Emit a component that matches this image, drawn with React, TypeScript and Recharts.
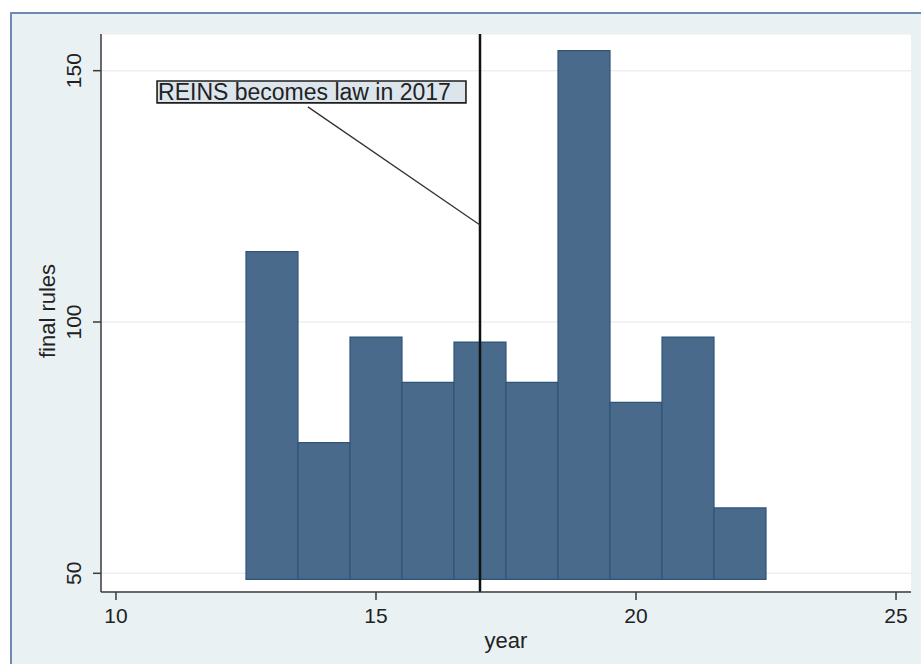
import React from 'react';
import {
  BarChart,
  Bar,
  XAxis,
  YAxis,
  CartesianGrid,
  ReferenceLine,
  ReferenceArea,
} from 'recharts';

// Final rules issued per year (two-digit years)
const years = [13, 14, 15, 16, 17, 18, 19, 20, 21, 22];
const finalRules = [114, 76, 97, 88, 96, 88, 154, 84, 97, 63];
const barBase = 48.8;

const xTicks = [10, 15, 20, 25];
const yTicks = [50, 100, 150];
const xDomain = [9.712, 25.288];
const yDomain = [46.28, 157.3];

// Annotation: the year REINS became law
const lawYear = 17;
const noteText = 'REINS becomes law in 2017';
const noteBox = { x1: 10.79, x2: 16.73, y1: 143.6, y2: 147.95 };
const notePointer = [
  { x: 13.69, y: 142.8 },
  { x: 17, y: 119.3 },
];

const data = years.map((year, i) => ({ year, rules: finalRules[i] }));

const FONT = '"Liberation Sans", Arial, Helvetica, sans-serif';
const TEXT = '#222222';

const YTick = (props: any) => {
  const { x, y, payload } = props;
  const bx = x - 12;
  return (
    <text
      x={bx}
      y={y}
      transform={`rotate(-90 ${bx} ${y})`}
      textAnchor="middle"
      fontSize={21}
      fontFamily={FONT}
      fill={TEXT}
    >
      {payload.value}
    </text>
  );
};

const YTitle = (props: any) => {
  const vb = props.viewBox;
  const cx = vb.x + 43;
  const cy = vb.y + vb.height / 2 - 2;
  return (
    <text
      x={cx}
      y={cy}
      transform={`rotate(-90 ${cx} ${cy})`}
      textAnchor="middle"
      fontSize={22}
      fontFamily={FONT}
      fill={TEXT}
    >
      final rules
    </text>
  );
};

const XTitle = (props: any) => {
  const vb = props.viewBox;
  return (
    <text
      x={vb.x + vb.width / 2}
      y={vb.y + 56}
      textAnchor="middle"
      fontSize={22}
      fontFamily={FONT}
      fill={TEXT}
    >
      year
    </text>
  );
};

export default function App() {
  return (
    <div
      style={{
        position: 'absolute',
        left: 10,
        top: 12,
        width: 911,
        height: 652,
        background: '#E9F1F3',
        borderTop: '2px solid #6C8BB3',
        borderLeft: '2px solid #6C8BB3',
        boxSizing: 'border-box',
      }}
    >
      <BarChart
        width={909}
        height={650}
        data={data}
        margin={{ top: 20, right: 10, left: 0, bottom: 0 }}
        barCategoryGap={0}
        barGap={0}
      >
        <CartesianGrid
          vertical={false}
          fill="#ffffff"
          stroke="#ECEFF1"
          strokeWidth={1.5}
        />
        <XAxis
          dataKey="year"
          type="number"
          domain={xDomain}
          ticks={xTicks}
          allowDataOverflow
          height={72}
          tickSize={8}
          tickMargin={8}
          stroke="#3a3a3a"
          strokeWidth={1.5}
          tick={{ fontSize: 21, fontFamily: FONT, fill: TEXT }}
          label={{ content: XTitle }}
        />
        <YAxis
          type="number"
          domain={yDomain}
          ticks={yTicks}
          allowDataOverflow
          width={89}
          tickSize={8}
          tickMargin={0}
          stroke="#3a3a3a"
          strokeWidth={1.5}
          tick={<YTick />}
          label={{ content: YTitle }}
        />
        <Bar
          dataKey={(d: any) => [barBase, d.rules]}
          fill="#4A6A8B"
          stroke="#2F5479"
          strokeWidth={1.2}
          isAnimationActive={false}
        />
        <ReferenceLine x={lawYear} stroke="#111111" strokeWidth={2.5} />
        <ReferenceLine
          segment={notePointer}
          stroke="#333333"
          strokeWidth={1.3}
        />
        <ReferenceArea
          x1={noteBox.x1}
          x2={noteBox.x2}
          y1={noteBox.y1}
          y2={noteBox.y2}
          fill="#DCE5EC"
          fillOpacity={1}
          stroke="#1e1e1e"
          strokeWidth={1.6}
          label={{
            value: noteText,
            position: 'insideLeft',
            offset: 1,
            fontSize: 23,
            fontFamily: FONT,
            fill: TEXT,
          }}
        />
      </BarChart>
    </div>
  );
}
